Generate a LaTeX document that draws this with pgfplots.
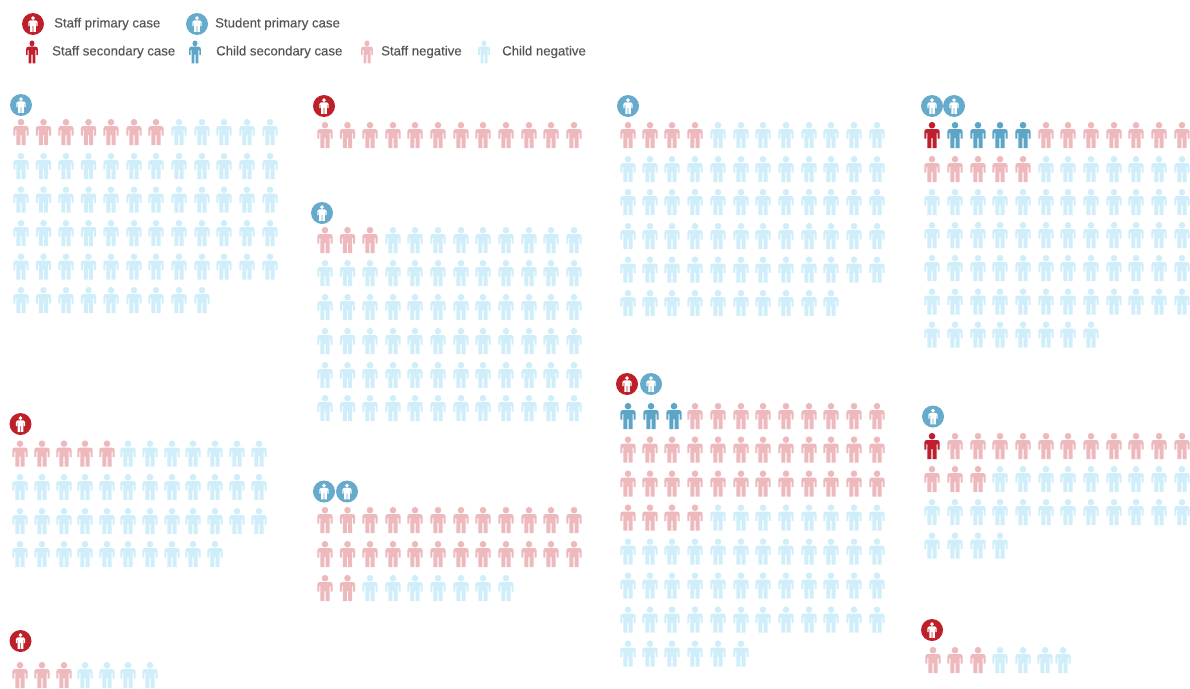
\documentclass[border=0pt]{standalone}
\usepackage{fontspec}
\setmainfont[FakeBold=0.2]{Liberation Sans}
\usepackage{pgfplots}
\pgfplotsset{compat=1.18}
\definecolor{sneg}{HTML}{EDB9BD}
\definecolor{cneg}{HTML}{CFEEF9}
\definecolor{ssec}{HTML}{BE1E2D}
\definecolor{csec}{HTML}{5CA5C7}
\definecolor{bblue}{HTML}{66ABCB}
\definecolor{bred}{HTML}{BD2029}
\definecolor{txt}{HTML}{555555}
\newcommand{\personpath}{%
  \pgfpathcircle{\pgfpoint{0pt}{9.8pt}}{3.3pt}%
  \pgfpathmoveto{\pgfpoint{-5pt}{6pt}}%
  \pgfpathlineto{\pgfpoint{5pt}{6pt}}%
  \pgfpathcurveto{\pgfpoint{6.8pt}{6pt}}{\pgfpoint{7.7pt}{5pt}}{\pgfpoint{7.7pt}{3.2pt}}%
  \pgfpathlineto{\pgfpoint{7.7pt}{-3.5pt}}%
  \pgfpathlineto{\pgfpoint{5.6pt}{-3.5pt}}%
  \pgfpathlineto{\pgfpoint{5.6pt}{2pt}}%
  \pgfpathlineto{\pgfpoint{4.6pt}{2pt}}%
  \pgfpathlineto{\pgfpoint{4.6pt}{-13pt}}%
  \pgfpathlineto{\pgfpoint{0.7pt}{-13pt}}%
  \pgfpathlineto{\pgfpoint{0.7pt}{-3pt}}%
  \pgfpathlineto{\pgfpoint{-0.7pt}{-3pt}}%
  \pgfpathlineto{\pgfpoint{-0.7pt}{-13pt}}%
  \pgfpathlineto{\pgfpoint{-4.6pt}{-13pt}}%
  \pgfpathlineto{\pgfpoint{-4.6pt}{2pt}}%
  \pgfpathlineto{\pgfpoint{-5.6pt}{2pt}}%
  \pgfpathlineto{\pgfpoint{-5.6pt}{-3.5pt}}%
  \pgfpathlineto{\pgfpoint{-7.7pt}{-3.5pt}}%
  \pgfpathlineto{\pgfpoint{-7.7pt}{3.2pt}}%
  \pgfpathcurveto{\pgfpoint{-7.7pt}{5pt}}{\pgfpoint{-6.8pt}{6pt}}{\pgfpoint{-5pt}{6pt}}%
  \pgfpathclose}
\pgfdeclareplotmark{person}{\personpath\pgfusepath{fill}}
\pgfdeclareplotmark{slim}{\pgfscope\pgftransformxscale{0.76}\pgftransformyscale{0.88}\personpath\pgfusepath{fill}\endpgfscope}
\pgfdeclareplotmark{badge}{%
  \pgfpathcircle{\pgfpointorigin}{11pt}\pgfusepath{fill}%
  \pgfscope\pgfsetfillcolor{white}\pgftransformscale{0.6}\personpath\pgfusepath{fill}\endpgfscope}
\pgfplotsset{
  ptm/.style 2 args={only marks,mark=#1,mark options={fill=#2,draw=none,solid},draw=none}}
\tikzset{lab/.style={anchor=west,text=txt,font=\fontsize{13.2}{15}\selectfont,inner sep=0pt}}
\begin{document}
\begin{tikzpicture}
\begin{axis}[hide axis,scale only axis,width=1190pt,height=688pt,at={(0pt,0pt)},anchor=south west,
  xmin=0,xmax=1190,ymin=0,ymax=688,y dir=reverse]
% Child negative
\addplot[ptm={person}{cneg}] coordinates {
(179,132)(202,132)(224,132)(247,132)(270,132)
(21,166)(43.5,166)(66,166)(88.5,166)(111,166)(134,166)(156,166)(179,166)(202,166)(224,166)(247,166)(270,166)
(21,199.5)(43.5,199.5)(66,199.5)(88.5,199.5)(111,199.5)(134,199.5)(156,199.5)(179,199.5)(202,199.5)(224,199.5)(247,199.5)(270,199.5)
(21,233)(43.5,233)(66,233)(88.5,233)(111,233)(134,233)(156,233)(179,233)(202,233)(224,233)(247,233)(270,233)
(21,266.5)(43.5,266.5)(66,266.5)(88.5,266.5)(111,266.5)(134,266.5)(156,266.5)(179,266.5)(202,266.5)(224,266.5)(247,266.5)(270,266.5)
(21,300)(43.5,300)(66,300)(88.5,300)(111,300)(134,300)(156,300)(179,300)(202,300)
(393,240)(415,240)(438,240)(461,240)(483,240)(506,240)(529,240)(551,240)(574,240)
(325,273)(347.5,273)(370,273)(393,273)(415,273)(438,273)(461,273)(483,273)(506,273)(529,273)(551,273)(574,273)
(325,307)(347.5,307)(370,307)(393,307)(415,307)(438,307)(461,307)(483,307)(506,307)(529,307)(551,307)(574,307)
(325,341)(347.5,341)(370,341)(393,341)(415,341)(438,341)(461,341)(483,341)(506,341)(529,341)(551,341)(574,341)
(325,375)(347.5,375)(370,375)(393,375)(415,375)(438,375)(461,375)(483,375)(506,375)(529,375)(551,375)(574,375)
(325,408)(347.5,408)(370,408)(393,408)(415,408)(438,408)(461,408)(483,408)(506,408)(529,408)(551,408)(574,408)
(370,588)(393,588)(415,588)(438,588)(461,588)(483,588)(506,588)
(128,453.5)(150,453.5)(172,453.5)(193,453.5)(215,453.5)(237,453.5)(259,453.5)
(20,487)(42,487)(64,487)(85,487)(107,487)(128,487)(150,487)(172,487)(193,487)(215,487)(237,487)(259,487)
(20,521)(42,521)(64,521)(85,521)(107,521)(128,521)(150,521)(172,521)(193,521)(215,521)(237,521)(259,521)
(20,554)(42,554)(64,554)(85,554)(107,554)(128,554)(150,554)(172,554)(193,554)(215,554)
(85,675)(107,675)(128,675)(150,675)
(718,135)(741,135)(763,135)(786,135)(809,135)(831,135)(854,135)(877,135)
(628,169)(650,169)(672,169)(695,169)(718,169)(741,169)(763,169)(786,169)(809,169)(831,169)(854,169)(877,169)
(628,202)(650,202)(672,202)(695,202)(718,202)(741,202)(763,202)(786,202)(809,202)(831,202)(854,202)(877,202)
(628,236)(650,236)(672,236)(695,236)(718,236)(741,236)(763,236)(786,236)(809,236)(831,236)(854,236)(877,236)
(628,269.5)(650,269.5)(672,269.5)(695,269.5)(718,269.5)(741,269.5)(763,269.5)(786,269.5)(809,269.5)(831,269.5)(854,269.5)(877,269.5)
(628,303)(650,303)(672,303)(695,303)(718,303)(741,303)(763,303)(786,303)(809,303)(831,303)
(718,517.5)(741,517.5)(763,517.5)(786,517.5)(809,517.5)(831,517.5)(854,517.5)(877,517.5)
(628,551.5)(650,551.5)(672,551.5)(695,551.5)(718,551.5)(741,551.5)(763,551.5)(786,551.5)(809,551.5)(831,551.5)(854,551.5)(877,551.5)
(628,585.5)(650,585.5)(672,585.5)(695,585.5)(718,585.5)(741,585.5)(763,585.5)(786,585.5)(809,585.5)(831,585.5)(854,585.5)(877,585.5)
(628,619.5)(650,619.5)(672,619.5)(695,619.5)(718,619.5)(741,619.5)(763,619.5)(786,619.5)(809,619.5)(831,619.5)(854,619.5)(877,619.5)
(628,653.5)(650,653.5)(672,653.5)(695,653.5)(718,653.5)(741,653.5)
(1046,169)(1068,169)(1091,169)(1114,169)(1136,169)(1159,169)(1182,169)
(932,202)(955,202)(978,202)(1000,202)(1023,202)(1046,202)(1068,202)(1091,202)(1114,202)(1136,202)(1159,202)(1182,202)
(932,235)(955,235)(978,235)(1000,235)(1023,235)(1046,235)(1068,235)(1091,235)(1114,235)(1136,235)(1159,235)(1182,235)
(932,268)(955,268)(978,268)(1000,268)(1023,268)(1046,268)(1068,268)(1091,268)(1114,268)(1136,268)(1159,268)(1182,268)
(932,301.5)(955,301.5)(978,301.5)(1000,301.5)(1023,301.5)(1046,301.5)(1068,301.5)(1091,301.5)(1114,301.5)(1136,301.5)(1159,301.5)(1182,301.5)
(932,334.5)(955,334.5)(978,334.5)(1000,334.5)(1023,334.5)(1046,334.5)(1068,334.5)(1091,334.5)
(1000,479)(1023,479)(1046,479)(1068,479)(1091,479)(1114,479)(1136,479)(1159,479)(1182,479)
(932,512)(955,512)(978,512)(1000,512)(1023,512)(1046,512)(1068,512)(1091,512)(1114,512)(1136,512)(1159,512)(1182,512)
(932,545.5)(955,545.5)(978,545.5)(1000,545.5)
(1000,660)(1023,660)(1045,660)(1063,660)
};
% Staff negative
\addplot[ptm={person}{sneg}] coordinates {
(21,132)(43.5,132)(66,132)(88.5,132)(111,132)(134,132)(156,132)
(325,135)(347.5,135)(370,135)(393,135)(415,135)(438,135)(461,135)(483,135)(506,135)(529,135)(551,135)(574,135)
(325,240)(347.5,240)(370,240)
(325,520)(347.5,520)(370,520)(393,520)(415,520)(438,520)(461,520)(483,520)(506,520)(529,520)(551,520)(574,520)
(325,554)(347.5,554)(370,554)(393,554)(415,554)(438,554)(461,554)(483,554)(506,554)(529,554)(551,554)(574,554)
(325,588)(347.5,588)
(20,453.5)(42,453.5)(64,453.5)(85,453.5)(107,453.5)
(20,675)(42,675)(64,675)
(628,135)(650,135)(672,135)(695,135)
(695,416)(718,416)(741,416)(763,416)(786,416)(809,416)(831,416)(854,416)(877,416)
(628,449.5)(650,449.5)(672,449.5)(695,449.5)(718,449.5)(741,449.5)(763,449.5)(786,449.5)(809,449.5)(831,449.5)(854,449.5)(877,449.5)
(628,483.5)(650,483.5)(672,483.5)(695,483.5)(718,483.5)(741,483.5)(763,483.5)(786,483.5)(809,483.5)(831,483.5)(854,483.5)(877,483.5)
(628,517.5)(650,517.5)(672,517.5)(695,517.5)
(1046,135)(1068,135)(1091,135)(1114,135)(1136,135)(1159,135)(1182,135)
(932,169)(955,169)(978,169)(1000,169)(1023,169)
(955,446)(978,446)(1000,446)(1023,446)(1046,446)(1068,446)(1091,446)(1114,446)(1136,446)(1159,446)(1182,446)
(932,479)(955,479)(978,479)
(933,660)(955,660)(978,660)
};
% Staff secondary
\addplot[ptm={person}{ssec}] coordinates {(932,135)(932,446)};
% Child secondary
\addplot[ptm={person}{csec}] coordinates {(955,135)(978,135)(1000,135)(1023,135)(628,416)(651,416)(674,416)};
% Badges
\addplot[ptm={badge}{bblue}] coordinates {(21,105)(322,213)(324,491.5)(347,491.5)(628,106)(651,384)(932,106)(954,106)(933,416.5)};
\addplot[ptm={badge}{bred}] coordinates {(324,106)(20.5,424)(20.5,641)(627,384)(932,630)};
% Legend
\addplot[ptm={badge}{bred}] coordinates {(33,24)};
\addplot[ptm={badge}{bblue}] coordinates {(197,24)};
\addplot[ptm={slim}{ssec}] coordinates {(32,52)};
\addplot[ptm={slim}{csec}] coordinates {(195,52)};
\addplot[ptm={slim}{sneg}] coordinates {(367,52)};
\addplot[ptm={slim}{cneg}] coordinates {(484,52)};
\node[lab] at (axis cs:54,24) {Staff primary case};
\node[lab] at (axis cs:215,24) {Student primary case};
\node[lab] at (axis cs:52,52) {Staff secondary case};
\node[lab] at (axis cs:216,52) {Child secondary case};
\node[lab] at (axis cs:381,52) {Staff negative};
\node[lab] at (axis cs:502,52) {Child negative};
\end{axis}
\pgfresetboundingbox
\useasboundingbox (0pt,0pt) rectangle (1190pt,688pt);
\end{tikzpicture}
\end{document}
